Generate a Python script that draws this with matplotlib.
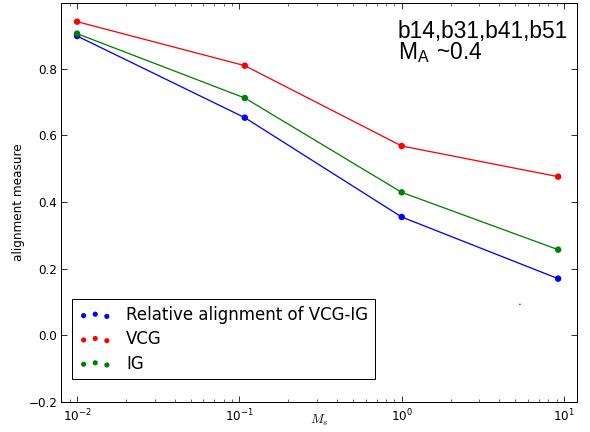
import matplotlib
matplotlib.use("Agg")
import matplotlib.pyplot as plt

ms = [0.01, 0.108, 1.0, 9.2]
rel_align = [0.898, 0.653, 0.355, 0.170]
vcg = [0.941, 0.809, 0.568, 0.476]
ig = [0.905, 0.712, 0.429, 0.257]
stray_x = [5.35]
stray_y = [0.093]

plt.rcParams['mathtext.fontset'] = 'cm'
plt.rcParams['font.family'] = 'DejaVu Sans'

fig = plt.figure(figsize=(590/72, 432/72), dpi=72)
ax = fig.add_axes([61/590, 1-402/432, 516/590, 399/432])

for y, c, lab in [(rel_align, 'b', 'Relative alignment of VCG-IG'),
                  (vcg, 'r', 'VCG'), (ig, 'g', 'IG')]:
    ax.plot(ms, y, color=c, lw=1.3, zorder=2)
    ax.scatter(ms, y, color=c, s=42, edgecolors='none', label=lab, zorder=3)
ax.scatter(stray_x, stray_y, color='b', s=2, edgecolors='none', zorder=3)

ax.set_xscale('log')
ax.set_xlim(10**-2.099, 10**1.08)
ax.set_ylim(-0.2, 0.997)
ax.set_yticks([-0.2, 0.0, 0.2, 0.4, 0.6, 0.8])
ax.tick_params(which='both', direction='in', top=True, right=True, labelsize=12)
ax.tick_params(which='major', length=6)
ax.tick_params(which='minor', length=3)
ax.xaxis.set_tick_params(pad=6)
for s in ax.spines.values():
    s.set_linewidth(1.0)

ax.set_xlabel('$M_s$', fontsize=13)
ax.xaxis.set_label_coords(0.5, -0.026)
ax.set_ylabel('alignment measure', fontsize=12)

ax.text(0.653, 0.958, 'b14,b31,b41,b51\nM$_\\mathregular{A}$ ~0.4', transform=ax.transAxes,
        ha='left', va='top', fontsize=22.7, linespacing=0.88,
        family='Liberation Sans')

leg = ax.legend(loc='lower left', bbox_to_anchor=(0.0213, 0.057), borderaxespad=0,
                scatterpoints=3, scatteryoffsets=[0.375, 0.5, 0.3125],
                fontsize=16.6, fancybox=False, framealpha=1, edgecolor='k',
                handletextpad=0.85, labelspacing=0.38, borderpad=0.4,
                handlelength=2.0, markerscale=0.8)
leg.get_frame().set_linewidth(1.0)

fig.savefig('out.png', dpi=72)
